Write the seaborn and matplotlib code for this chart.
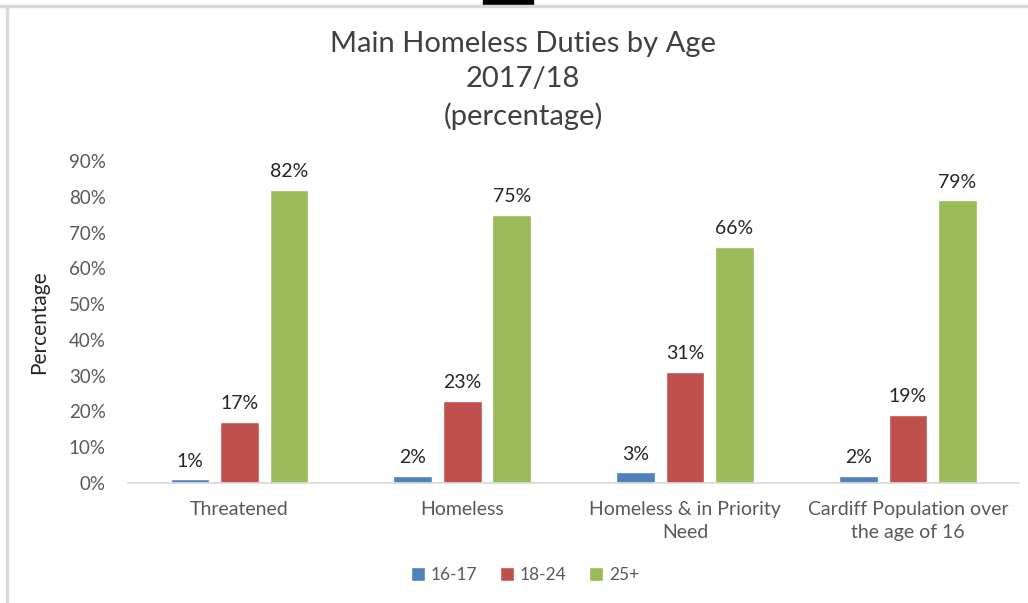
import matplotlib
matplotlib.use("Agg")
import matplotlib.pyplot as plt
import seaborn as sns
import pandas as pd
from matplotlib.lines import Line2D
from matplotlib.patches import Rectangle

categories = ["Threatened", "Homeless", "Homeless & in Priority\nNeed",
              "Cardiff Population over\nthe age of 16"]
age_groups = ["16-17", "18-24", "25+"]
values_16_17 = [1, 2, 3, 2]
values_18_24 = [17, 23, 31, 19]
values_25_plus = [82, 75, 66, 79]
y_ticks = [0, 10, 20, 30, 40, 50, 60, 70, 80, 90]
colors = ["#4F81BD", "#C0504D", "#9BBB59"]

rows = []
for grp, vals in zip(age_groups, [values_16_17, values_18_24, values_25_plus]):
    for c, v in zip(categories, vals):
        rows.append({"Category": c, "Age": grp, "Value": v})
df = pd.DataFrame(rows)

sns.set_theme(style="white")
plt.rcParams["font.family"] = ["Lato", "DejaVu Sans"]

fig = plt.figure(figsize=(10.28, 6.03), dpi=100)
ax = fig.add_axes([0.1245, 0.199, 0.867, 0.534])

sns.barplot(data=df, x="Category", y="Value", hue="Age", order=categories,
            hue_order=age_groups, palette=colors, width=0.666, gap=0.22,
            ax=ax, legend=True, saturation=1)

for cont in ax.containers:
    ax.bar_label(cont, labels=[f"{int(round(b.get_height()))}%" for b in cont],
                 padding=7, fontsize=14, color="#262626")

ax.set_ylim(0, 90)
ax.set_xlim(-0.5, 3.5)
ax.set_yticks(y_ticks)
ax.set_yticklabels([f"{t}%" for t in y_ticks], fontsize=13.5, color="#595959")
ax.tick_params(axis="x", labelsize=14, labelcolor="#595959", length=0, pad=13)
ax.tick_params(axis="y", length=0, pad=16)
for lbl in ax.get_xticklabels():
    lbl.set_linespacing(1.45)
ax.set_xlabel("")
ax.set_ylabel("Percentage", fontsize=15, color="#262626", labelpad=14)
for s in ["top", "right", "left"]:
    ax.spines[s].set_visible(False)
ax.spines["bottom"].set_color("#D9D9D9")
ax.spines["bottom"].set_linewidth(1.2)

ax.legend(loc="center", bbox_to_anchor=(0.511, 1 - 575 / 603), bbox_transform=fig.transFigure,
          ncol=3, frameon=False, fontsize=12.5, handlelength=0.8, handleheight=0.8,
          handletextpad=0.35, columnspacing=1.3, labelcolor="#595959")

fig.text(0.509, 1 - 31 / 603, "Main Homeless Duties by Age\n2017/18\n(percentage)",
         ha="center", va="top", fontsize=21, color="#404040", linespacing=1.45)

# frame lines of the original screenshot
fig.add_artist(Line2D([0, 1], [1 - 6 / 603, 1 - 6 / 603], color="#D9D9D9", lw=2.5,
                      transform=fig.transFigure))
fig.add_artist(Line2D([7 / 1028, 7 / 1028], [0, 1 - 6 / 603], color="#D9D9D9", lw=2.5,
                      transform=fig.transFigure))
fig.add_artist(Rectangle((483 / 1028, 1 - 5 / 603), 50 / 1028, 5 / 603, color="black",
                         transform=fig.transFigure))

fig.savefig("out.png", dpi=100, facecolor="white")
